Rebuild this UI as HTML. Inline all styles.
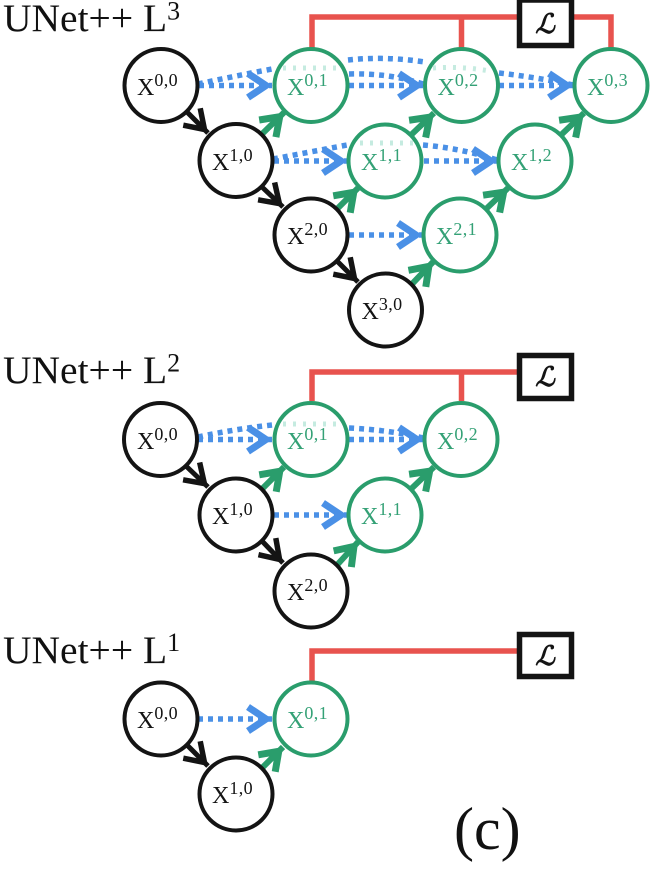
<!DOCTYPE html>
<html lang="en">
<head>
<meta charset="utf-8">
<title>UNet++ L1 L2 L3 diagram</title>
<style>
html,body{margin:0;padding:0;background:#fff;width:666px;height:872px;overflow:hidden}
svg{display:block}
.t{font-family:"Liberation Serif",serif;font-size:39.5px;fill:#111}
.s{font-size:26px}
.n{fill:#fff;stroke-width:4}
.k{stroke:#141414}
.g{stroke:#2a9d6c}
.x{font-family:"Liberation Serif",serif;font-size:24px}
.x tspan{font-size:18px;letter-spacing:.4px}
.lk{fill:#141414}
.lg{fill:#34a176}
.d{fill:none;stroke:#4a90e6;stroke-width:5.5;stroke-dasharray:5 5}
.p{fill:none;stroke:#c5ebe0;stroke-width:5;stroke-dasharray:3 7}
.gl{stroke:#2a9d6c;stroke-width:6;fill:none}
.bl{stroke:#141414;stroke-width:5;fill:none}
.r{fill:none;stroke:#e8534e;stroke-width:5.5}
.b{fill:#fff;stroke:#141414;stroke-width:5.5}
.ls{font-family:"Liberation Serif",serif;font-style:italic;font-weight:bold;font-size:27px;fill:#141414;text-anchor:middle}
</style>
</head>
<body>
<svg width="666" height="872" viewBox="0 0 666 872" xmlns="http://www.w3.org/2000/svg">
<defs>
<marker id="mb" markerUnits="userSpaceOnUse" orient="auto" markerWidth="40" markerHeight="40" refX="30" refY="20" viewBox="0 0 40 40"><path d="M6 8 L24 20 L6 32" fill="none" stroke="#4a90e6" stroke-width="7"/></marker>
<marker id="mg" markerUnits="userSpaceOnUse" orient="auto" markerWidth="40" markerHeight="40" refX="30" refY="20" viewBox="0 0 40 40"><path d="M7 8 L24 20 L7 32" fill="none" stroke="#2a9d6c" stroke-width="7"/></marker>
<marker id="mk" markerUnits="userSpaceOnUse" orient="auto" markerWidth="40" markerHeight="40" refX="30" refY="20" viewBox="0 0 40 40"><path d="M7 8 L25 20 L7 32" fill="none" stroke="#141414" stroke-width="5.5"/></marker>
</defs>

<g>
<text class="t" x="3" y="31">UNet++ L<tspan class="s" dy="-11.5">3</tspan></text>
<path class="r" d="M312 48V17H518M461.5 17V48M573 17H611V48"/>
<rect class="b" x="519.5" y="0" width="52" height="45.5"/>
<text class="ls" x="545" y="33">ℒ</text>
<path class="d" d="M198 84Q235 76 272 69"/>
<path class="d" d="M348 60Q385 56 425 62"/>
<path class="d" d="M349 74Q390 73 423 84"/>
<path class="d" d="M499 73Q535 77 573 85"/>
<path class="d" d="M273 159Q310 152 347 145"/>
<path class="d" d="M423 145Q460 148 497 160"/>
<line class="d" x1="199" y1="85.5" x2="272" y2="85.5" marker-end="url(#mb)"/>
<line class="d" x1="349" y1="85.5" x2="423" y2="85.5" marker-end="url(#mb)"/>
<line class="d" x1="499" y1="85.5" x2="573" y2="85.5" marker-end="url(#mb)"/>
<line class="d" x1="274" y1="161" x2="347" y2="161" marker-end="url(#mb)"/>
<line class="d" x1="424" y1="161" x2="497" y2="161" marker-end="url(#mb)"/>
<line class="d" x1="349" y1="235" x2="422" y2="235" marker-end="url(#mb)"/>
<line class="bl" x1="187" y1="112" x2="208" y2="133" marker-end="url(#mk)"/>
<line class="bl" x1="262" y1="187" x2="283" y2="207" marker-end="url(#mk)"/>
<line class="bl" x1="337" y1="261" x2="358" y2="282" marker-end="url(#mk)"/>
<line class="gl" x1="262" y1="134" x2="284" y2="112.5" marker-end="url(#mg)"/>
<line class="gl" x1="337" y1="209" x2="358" y2="188" marker-end="url(#mg)"/>
<line class="gl" x1="411" y1="135" x2="434" y2="113" marker-end="url(#mg)"/>
<line class="gl" x1="412" y1="284" x2="433" y2="262" marker-end="url(#mg)"/>
<line class="gl" x1="486" y1="209" x2="508" y2="188" marker-end="url(#mg)"/>
<line class="gl" x1="561" y1="135" x2="584" y2="113" marker-end="url(#mg)"/>
<circle class="n k" cx="161" cy="85.5" r="36.5"/>
<circle class="n k" cx="236" cy="160.5" r="36.5"/>
<circle class="n k" cx="311" cy="235" r="36.5"/>
<circle class="n k" cx="385.5" cy="310" r="36.5"/>
<circle class="n g" cx="311" cy="85.5" r="36.5"/>
<circle class="n g" cx="461.5" cy="85.5" r="36.5"/>
<circle class="n g" cx="611" cy="85.5" r="36.5"/>
<circle class="n g" cx="385" cy="161" r="36.5"/>
<circle class="n g" cx="535" cy="161" r="36.5"/>
<circle class="n g" cx="460" cy="235" r="36.5"/>
<path class="p" d="M283 68H340"/>
<path class="p" d="M433 68Q461 66 490 71"/>
<path class="p" d="M360 143H413"/>
<text class="x lk" x="137" y="95">X<tspan dy="-9">0,0</tspan></text>
<text class="x lk" x="212" y="170">X<tspan dy="-9">1,0</tspan></text>
<text class="x lk" x="287" y="244">X<tspan dy="-9">2,0</tspan></text>
<text class="x lk" x="361.5" y="319">X<tspan dy="-9">3,0</tspan></text>
<text class="x lg" x="287" y="95">X<tspan dy="-9">0,1</tspan></text>
<text class="x lg" x="437.5" y="95">X<tspan dy="-9">0,2</tspan></text>
<text class="x lg" x="587" y="95">X<tspan dy="-9">0,3</tspan></text>
<text class="x lg" x="361" y="170">X<tspan dy="-9">1,1</tspan></text>
<text class="x lg" x="511" y="170">X<tspan dy="-9">1,2</tspan></text>
<text class="x lg" x="436" y="244">X<tspan dy="-9">2,1</tspan></text>
</g>

<g>
<text class="t" x="3" y="383">UNet++ L<tspan class="s" dy="-11.5">2</tspan></text>
<path class="r" d="M312 401V372H518M461.5 372V401"/>
<rect class="b" x="519.5" y="355.5" width="52" height="43"/>
<text class="ls" x="545" y="386">ℒ</text>
<path class="d" d="M198 437Q235 429 272 425"/>
<path class="d" d="M349 428Q390 430 423 438"/>
<line class="d" x1="198" y1="439.5" x2="272" y2="439.5" marker-end="url(#mb)"/>
<line class="d" x1="349" y1="439.5" x2="423" y2="439.5" marker-end="url(#mb)"/>
<line class="d" x1="274" y1="515" x2="347" y2="515" marker-end="url(#mb)"/>
<line class="bl" x1="186" y1="466" x2="208" y2="487" marker-end="url(#mk)"/>
<line class="bl" x1="262" y1="541" x2="283" y2="563" marker-end="url(#mk)"/>
<line class="gl" x1="262" y1="489" x2="284" y2="467" marker-end="url(#mg)"/>
<line class="gl" x1="337" y1="565" x2="358" y2="542" marker-end="url(#mg)"/>
<line class="gl" x1="411" y1="489" x2="434" y2="467" marker-end="url(#mg)"/>
<circle class="n k" cx="160.5" cy="439.5" r="36.5"/>
<circle class="n k" cx="236" cy="515" r="36.5"/>
<circle class="n k" cx="311" cy="591" r="36.5"/>
<circle class="n g" cx="311" cy="439.5" r="36.5"/>
<circle class="n g" cx="461" cy="439.5" r="36.5"/>
<circle class="n g" cx="385" cy="515" r="36.5"/>
<path class="p" d="M283 424H340"/>
<text class="x lk" x="137" y="449">X<tspan dy="-9">0,0</tspan></text>
<text class="x lk" x="212" y="524">X<tspan dy="-9">1,0</tspan></text>
<text class="x lk" x="287" y="600">X<tspan dy="-9">2,0</tspan></text>
<text class="x lg" x="287" y="449">X<tspan dy="-9">0,1</tspan></text>
<text class="x lg" x="437" y="449">X<tspan dy="-9">0,2</tspan></text>
<text class="x lg" x="361" y="524">X<tspan dy="-9">1,1</tspan></text>
</g>

<g>
<text class="t" x="3" y="663">UNet++ L<tspan class="s" dy="-12">1</tspan></text>
<path class="r" d="M312 681V651H518"/>
<rect class="b" x="519.5" y="634.5" width="52" height="42"/>
<text class="ls" x="545" y="665">ℒ</text>
<line class="d" x1="198" y1="719" x2="272" y2="719" marker-end="url(#mb)"/>
<line class="bl" x1="187" y1="745" x2="208" y2="766" marker-end="url(#mk)"/>
<line class="gl" x1="262" y1="768" x2="283" y2="747" marker-end="url(#mg)"/>
<circle class="n k" cx="161" cy="719" r="36.5"/>
<circle class="n k" cx="236" cy="794" r="36.5"/>
<circle class="n g" cx="311" cy="719" r="36.5"/>
<text class="x lk" x="137" y="728">X<tspan dy="-9">0,0</tspan></text>
<text class="x lk" x="212" y="803">X<tspan dy="-9">1,0</tspan></text>
<text class="x lg" x="287" y="728">X<tspan dy="-9">0,1</tspan></text>
</g>

<text x="454" y="849" font-family="'Liberation Serif',serif" font-size="60" fill="#111">(c)</text>
</svg>
</body>
</html>
